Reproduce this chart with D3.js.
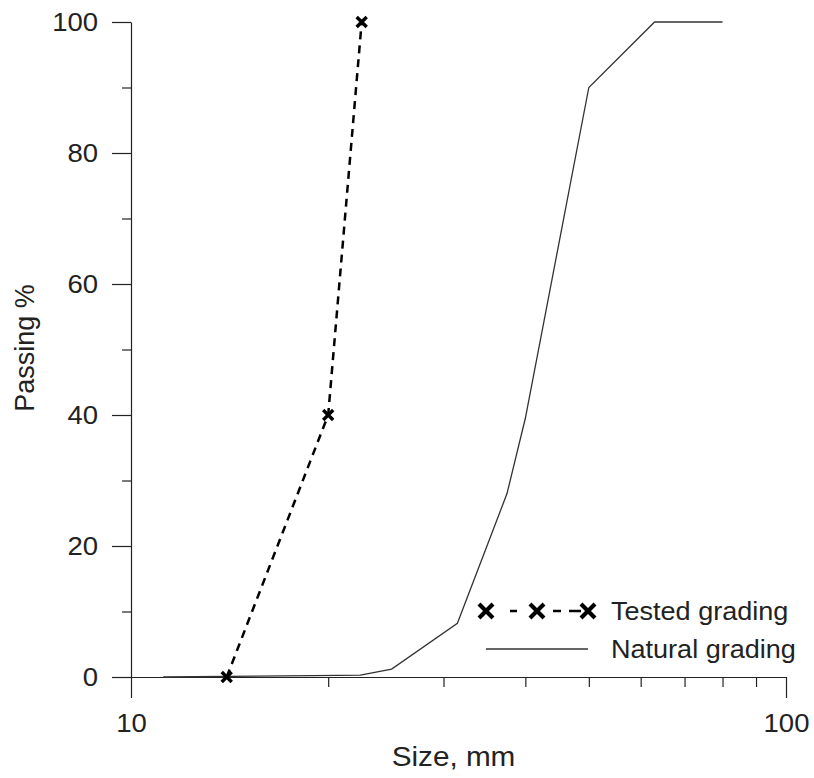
<!DOCTYPE html>
<html>
<head>
<meta charset="utf-8">
<script src="https://cdn.jsdelivr.net/npm/d3@7"></script>
<style>
  body { margin: 0; background: #fff; }
  svg text { font-family: "Liberation Sans", Arial, sans-serif; fill: #222; }
</style>
</head>
<body>
<svg id="chart" width="814" height="778"></svg>
<script>
// grading curves, size in mm and percent passing
const testedSize = [14, 20, 22.5];
const testedPassing = [0, 40, 100];
const naturalSize = [11.2, 19, 22.4, 25, 31.5, 37.5, 40, 50, 63, 80];
const naturalPassing = [0, 0.2, 0.3, 1.2, 8.2, 28, 39.5, 90, 100, 100];

const yMajor = [0, 20, 40, 60, 80, 100];
const yMinor = [10, 30, 50, 70, 90];
const xMajor = [10, 100];
const xMinor = [20, 30, 40, 50, 60, 70, 80, 90];

const seriesNames = ["Tested grading", "Natural grading"];

let svg = d3.select("#chart");
let margin = {top: 22, right: 28, bottom: 101, left: 131};
let width = 814 - margin.left - margin.right,
    height = 778 - margin.top - margin.bottom;

let x = d3.scaleLog().domain([10, 100]).range([margin.left, margin.left + width]);
let y = d3.scaleLinear().domain([0, 100]).range([margin.top + height, margin.top]);

let axisColor = "#222";
// the source picture is a little wider than tall, text looks stretched
let stretch = "scale(1.1,1)";

// y axis: majors with labels, minors without
svg.append("g")
    .attr("transform", "translate(" + margin.left + ",0)")
    .call(d3.axisLeft(y).tickValues(yMajor).tickSize(19).tickSizeOuter(0).tickPadding(11).tickFormat(d3.format("d")));
svg.append("g")
    .attr("transform", "translate(" + margin.left + ",0)")
    .call(d3.axisLeft(y).tickValues(yMinor).tickSize(9).tickFormat(""))
    .select(".domain").remove();

// x axis
svg.append("g")
    .attr("transform", "translate(0," + (margin.top + height) + ")")
    .call(d3.axisBottom(x).tickValues(xMajor).tickSize(21).tickSizeOuter(0).tickPadding(16).tickFormat(d3.format("d")));
svg.append("g")
    .attr("transform", "translate(0," + (margin.top + height) + ")")
    .call(d3.axisBottom(x).tickValues(xMinor).tickSize(10).tickFormat(""))
    .select(".domain").remove();

svg.selectAll(".domain, .tick line").attr("stroke", axisColor).attr("stroke-width", 1.2);
svg.selectAll(".tick text").attr("font-size", 25).attr("fill", axisColor)
    .attr("transform", stretch)
    .style("font-family", "'Liberation Sans', Arial, sans-serif");

// axis titles
svg.append("text")
    .attr("transform", "translate(" + (x(Math.sqrt(10 * 100)) - 5) + ",766) " + stretch)
    .attr("text-anchor", "middle")
    .attr("font-size", 27)
    .text("Size, mm");

svg.append("text")
    .attr("transform", "translate(34," + 348 + ") rotate(-90)")
    .attr("text-anchor", "middle")
    .attr("font-size", 27)
    .text("Passing %");

// lines
let line = d3.line().x(d => x(d[0])).y(d => y(d[1]));

let natural = d3.zip(naturalSize, naturalPassing);
let tested = d3.zip(testedSize, testedPassing);

svg.append("path")
    .attr("d", line(natural))
    .attr("fill", "none")
    .attr("stroke", "#333")
    .attr("stroke-width", 1.3);

svg.append("path")
    .attr("d", line(tested))
    .attr("fill", "none")
    .attr("stroke", "#000")
    .attr("stroke-width", 2.5)
    .attr("stroke-dasharray", "8,6");

function cross(s) {
    return "M" + (-s) + "," + (-s) + "L" + s + "," + s + "M" + (-s) + "," + s + "L" + s + "," + (-s);
}

svg.selectAll(".marker").data(tested).enter().append("path")
    .attr("class", "marker")
    .attr("transform", d => "translate(" + x(d[0]) + "," + y(d[1]) + ")")
    .attr("d", cross(5))
    .attr("stroke", "#000")
    .attr("stroke-width", 3.4)
    .attr("fill", "none");

// legend
let legend = svg.append("g").attr("transform", "translate(486,611)");
legend.append("line")
    .attr("x1", 0).attr("x2", 102)
    .attr("stroke", "#000").attr("stroke-width", 2.5)
    .attr("stroke-dasharray", "0,24,7,36,8,8,12,100");
legend.selectAll(".lm").data([0, 51, 102]).enter().append("path")
    .attr("transform", d => "translate(" + d + ",0)")
    .attr("d", cross(7))
    .attr("stroke", "#000")
    .attr("stroke-width", 4.2)
    .attr("fill", "none");
legend.append("line")
    .attr("x1", 0).attr("x2", 102)
    .attr("y1", 38).attr("y2", 38)
    .attr("stroke", "#333").attr("stroke-width", 1.3);
legend.selectAll(".lt").data(seriesNames).enter().append("text")
    .attr("transform", (d, i) => "translate(125," + (i * 38 + 9) + ") scale(1.04,1)")
    .attr("font-size", 26)
    .text(d => d);
</script>
</body>
</html>
